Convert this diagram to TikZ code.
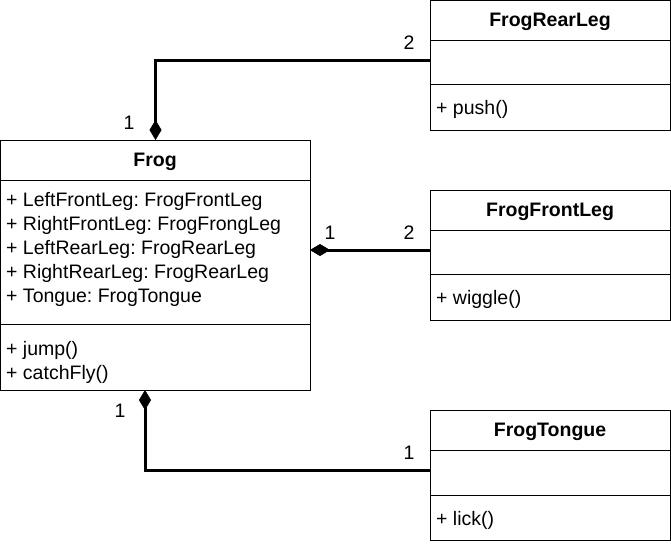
\documentclass[tikz,border=0pt]{standalone}
\usepackage{fontspec}
\setmainfont{Liberation Sans}
\usetikzlibrary{arrows.meta,calc}
\frenchspacing
\begin{document}
\begin{tikzpicture}[x=1pt,y=-1pt,
  box/.style={draw=black,line width=1pt,anchor=north west,inner sep=0pt,minimum width=240pt},
  frogbox/.style={draw=black,line width=1pt,anchor=north west,inner sep=0pt,minimum width=310pt,minimum height=250pt},
  title/.style={font=\fontsize{19.5}{24}\selectfont\bfseries,anchor=center},
  member/.style={font=\fontsize{19.5}{24}\selectfont\frenchspacing,anchor=west,align=left,inner sep=0pt},
  mult/.style={font=\fontsize{19.5}{24}\selectfont,anchor=center,inner sep=0pt},
  comp/.style={line width=3pt,-{Diamond[length=20pt,width=12pt,line width=0.5pt]}},
  sep/.style={line width=1pt}]
\useasboundingbox (0,0) rectangle (671,544);
% Frog
\node[frogbox,minimum height=250pt] (frog) at (0,140) {};
\draw[sep] (0,180) -- (310,180);
\draw[sep] (0,324) -- (310,324);
\node[title] (frogT) at (155,162) {Frog};
\node[member] (frogA) at (6,249.5) {+ LeftFrontLeg: FrogFrontLeg\\+ RightFrontLeg: FrogFrongLeg\\+ LeftRearLeg: FrogRearLeg\\+ RightRearLeg: FrogRearLeg\\+ Tongue: FrogTongue};
\node[member] (frogM) at (6,362) {+ jump()\\+ catchFly()};
% FrogRearLeg
\node[box,minimum height=130pt] (rear) at (430,0) {};
\draw[sep] (430,40) -- (670,40);
\draw[sep] (430,84) -- (670,84);
\node[title] (rearT) at (550,22) {FrogRearLeg};
\node[member] (rearM) at (436,109) {+ push()};
% FrogFrontLeg
\node[box,minimum height=130pt] (front) at (430,190) {};
\draw[sep] (430,230) -- (670,230);
\draw[sep] (430,274) -- (670,274);
\node[title] (frontT) at (550,212) {FrogFrontLeg};
\node[member] (frontM) at (436,299) {+ wiggle()};
% FrogTongue
\node[box,minimum height=130pt] (tongue) at (430,410) {};
\draw[sep] (430,450) -- (670,450);
\draw[sep] (430,495) -- (670,495);
\node[title] (tongueT) at (550,432) {FrogTongue};
\node[member] (tongueM) at (436,520) {+ lick()};
% connector end points
\coordinate (rearIn) at (430,60);
\coordinate (frontIn) at (430,250);
\coordinate (frogE) at (310,250);
\coordinate (tongueIn) at (430,470);
\coordinate (frogS) at (145,390);
% connectors
\draw[comp] (rearIn) -| (frog.north);
\draw[comp] (frontIn) -- (frogE);
\draw[comp] (tongueIn) -| (frogS);
% multiplicities
\node[mult] (m1) at (129,123) {1};
\node[mult] (m2) at (409,43) {2};
\node[mult] (m3) at (330,233) {1};
\node[mult] (m4) at (409,233) {2};
\node[mult] (m5) at (120,411) {1};
\node[mult] (m6) at (409,453) {1};
\end{tikzpicture}
\end{document}
